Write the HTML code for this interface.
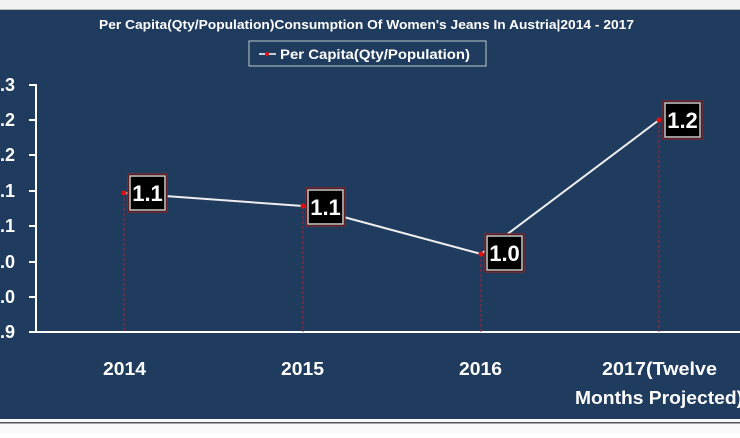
<!DOCTYPE html>
<html><head><style>
body{margin:0;width:740px;height:433px;overflow:hidden;background:#fff;font-family:"Liberation Sans",sans-serif}
</style></head><body>
<svg width="740" height="433" xmlns="http://www.w3.org/2000/svg">
<rect x="0" y="0" width="740" height="9" fill="#f2f2f2"/>
<rect x="0" y="9" width="740" height="1" fill="#bbb"/>
<rect x="0" y="10" width="740" height="409" fill="#1f3b5e"/>
<rect x="0" y="419" width="740" height="14" fill="#fafafa"/>
<rect x="0" y="422" width="740" height="1.5" fill="#555"/>
<text x="99" y="29" fill="#fff" font-size="13" font-weight="bold" textLength="535" lengthAdjust="spacingAndGlyphs">Per Capita(Qty/Population)Consumption Of Women's Jeans In Austria|2014 - 2017</text>
<rect x="249" y="41" width="237" height="25" fill="none" stroke="#bcc" stroke-width="1"/>
<line x1="259" y1="54" x2="276" y2="54" stroke="#fff" stroke-width="1.5"/>
<circle cx="267" cy="54" r="2" fill="#e01010"/>
<text x="280" y="59" fill="#fff" font-size="13.5" font-weight="bold" textLength="190" lengthAdjust="spacingAndGlyphs">Per Capita(Qty/Population)</text>
<g stroke="#fff" stroke-width="2" fill="none">
<line x1="36" y1="84" x2="36" y2="333"/>
<line x1="29" y1="332" x2="740" y2="332"/>
<line x1="29" y1="85" x2="36" y2="85"/><line x1="29" y1="120" x2="36" y2="120"/><line x1="29" y1="155" x2="36" y2="155"/><line x1="29" y1="191" x2="36" y2="191"/><line x1="29" y1="226" x2="36" y2="226"/><line x1="29" y1="262" x2="36" y2="262"/><line x1="29" y1="297" x2="36" y2="297"/>
</g>
<g fill="#fff" font-size="18" font-weight="bold" text-anchor="end">
<text x="15" y="91">1.3</text><text x="15" y="126">1.2</text><text x="15" y="161">1.2</text><text x="15" y="197">1.1</text><text x="15" y="232">1.1</text><text x="15" y="268">1.0</text><text x="15" y="303">1.0</text><text x="15" y="338">0.9</text>
</g>
<g stroke="#b02030" stroke-width="1" stroke-dasharray="3,2">
<line x1="124" y1="193" x2="124" y2="332"/><line x1="303" y1="206" x2="303" y2="332"/><line x1="481" y1="254" x2="481" y2="332"/><line x1="659" y1="120" x2="659" y2="332"/>
</g>
<polyline points="124,193 303,206 481,254 659,120" fill="none" stroke="#eee" stroke-width="2"/>
<g fill="#e01010"><circle cx="124" cy="193" r="2.5"/><circle cx="303" cy="206" r="2.5"/><circle cx="481" cy="254" r="2.5"/><circle cx="659" cy="120" r="2.5"/></g>
<g font-size="22" font-weight="bold" fill="#fff" text-anchor="middle">
<rect x="128" y="174" width="39" height="38" fill="#000" stroke="#7a2a30" stroke-width="1.5"/><rect x="130" y="176" width="35" height="34" fill="none" stroke="#ccc" stroke-width="1.5"/><text x="147.5" y="201">1.1</text>
<rect x="306" y="188" width="39" height="38" fill="#000" stroke="#7a2a30" stroke-width="1.5"/><rect x="308" y="190" width="35" height="34" fill="none" stroke="#ccc" stroke-width="1.5"/><text x="325.5" y="215">1.1</text>
<rect x="485" y="234" width="39" height="38" fill="#000" stroke="#7a2a30" stroke-width="1.5"/><rect x="487" y="236" width="35" height="34" fill="none" stroke="#ccc" stroke-width="1.5"/><text x="504.5" y="261">1.0</text>
<rect x="663" y="101" width="39" height="38" fill="#000" stroke="#7a2a30" stroke-width="1.5"/><rect x="665" y="103" width="35" height="34" fill="none" stroke="#ccc" stroke-width="1.5"/><text x="682.5" y="128">1.2</text>
</g>
<g font-size="18" font-weight="bold" fill="#fff">
<text x="103" y="375" textLength="43" lengthAdjust="spacingAndGlyphs">2014</text>
<text x="281" y="375" textLength="43" lengthAdjust="spacingAndGlyphs">2015</text>
<text x="459" y="375" textLength="43" lengthAdjust="spacingAndGlyphs">2016</text>
<text x="602" y="375" textLength="115" lengthAdjust="spacingAndGlyphs">2017(Twelve</text>
<text x="575" y="404" textLength="168" lengthAdjust="spacingAndGlyphs">Months Projected)</text>
</g>
</svg>
</body></html>
